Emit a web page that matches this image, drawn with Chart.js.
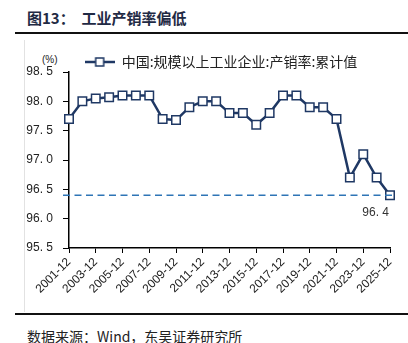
<!DOCTYPE html>
<html>
<head>
<meta charset="utf-8">
<script src="https://cdn.jsdelivr.net/npm/chart.js@4.4.1/dist/chart.umd.min.js"></script>
<style>
  html, body { margin: 0; padding: 0; background: #fff; }
  body { width: 408px; height: 343px; position: relative; overflow: hidden; font-family: "Noto Sans CJK SC", sans-serif; }
  .title { position: absolute; left: 27px; top: 7px; font-size: 15px; font-weight: bold; color: #1f2a44; white-space: pre; }
  .rule { position: absolute; left: 15px; right: 0; height: 2px; background: #111; }
  .frame { position: absolute; left: 24px; top: 40px; width: 1px; height: 272px; background: #e2e2e2; }
  .unit { position: absolute; left: 42px; top: 54px; font-size: 10px; font-family: "Liberation Sans", sans-serif; color: #222; }
  .source { position: absolute; left: 27px; top: 326px; font-size: 14px; color: #222; white-space: pre; }
  #wrap { position: absolute; left: 0; top: 40px; width: 408px; height: 272px; }
</style>
</head>
<body>
<div class="title">图13：  工业产销率偏低</div>
<div class="rule" style="top:32px"></div>
<div class="frame"></div>
<div class="unit">(%)</div>
<div id="wrap"><canvas id="lineCanvas" width="408" height="272"></canvas></div>
<div class="rule" style="top:313px"></div>
<div class="source">数据来源：Wind，东吴证券研究所</div>

<script>
// 2001-12 ... 2025-12
const years = [
  "2001-12", "2002-12", "2003-12", "2004-12", "2005-12", "2006-12", "2007-12",
  "2008-12", "2009-12", "2010-12", "2011-12", "2012-12", "2013-12", "2014-12",
  "2015-12", "2016-12", "2017-12", "2018-12", "2019-12", "2020-12", "2021-12",
  "2022-12", "2023-12", "2024-12", "2025-12",
];
const salesRate = [
  97.7, 98.0, 98.05, 98.07, 98.1, 98.1, 98.1,
  97.7, 97.68, 97.9, 98.0, 98.0, 97.8, 97.8,
  97.6, 97.8, 98.1, 98.1, 97.9, 97.9, 97.7,
  96.7, 97.1, 96.7, 96.4,
];
const seriesName = "中国:规模以上工业企业:产销率:累计值";
const refValue = 96.4;
const yTicks = [95.5, 96.0, 96.5, 97.0, 97.5, 98.0, 98.5];

const navy = "#1f3864";

// little legend symbol: line with a square in the middle
const makeLegendIcon = () => {
  const c = document.createElement("canvas");
  c.width = 30;
  c.height = 12;
  const g = c.getContext("2d");
  g.strokeStyle = navy;
  g.lineWidth = 2.5;
  g.beginPath();
  g.moveTo(0, 6);
  g.lineTo(30, 6);
  g.stroke();
  g.fillStyle = "#fff";
  g.lineWidth = 1.5;
  g.fillRect(11, 2, 8, 8);
  g.strokeRect(11, 2, 8, 8);
  return c;
};

// the legend sits a bit right of centre and closer to the plot in the original
const legendNudge = {
  id: "legendNudge",
  afterLayout(chart) {
    const lg = chart.legend;
    lg.left += 16;
    lg.right += 16;
    lg.top += 7;
    lg.bottom += 7;
  },
};

// dashed reference line + its label
const refLine = {
  id: "refLine",
  afterDatasetsDraw(chart) {
    const { ctx, chartArea, scales } = chart;
    const y = scales.y.getPixelForValue(refValue);
    ctx.save();
    ctx.strokeStyle = "#2e75b6";
    ctx.lineWidth = 1.6;
    ctx.setLineDash([7, 4.5]);
    ctx.beginPath();
    ctx.moveTo(chartArea.left - 6, y);
    ctx.lineTo(chartArea.right + 6, y);
    ctx.stroke();
    ctx.setLineDash([]);
    ctx.fillStyle = "#333";
    ctx.font = "12px 'Liberation Sans', sans-serif";
    ctx.textAlign = "right";
    ctx.textBaseline = "middle";
    ctx.fillText(refValue.toFixed(1).replace(".", ". "), chartArea.right - 1, y + 17);
    ctx.restore();
  },
};

const initChart = () => {
  const canvas = document.getElementById("lineCanvas");
  const icon = makeLegendIcon();

  return new Chart(canvas, {
    type: "line",
    data: {
      labels: years,
      datasets: [
        {
          label: seriesName,
          data: salesRate,
          borderColor: navy,
          borderWidth: 2.5,
          pointStyle: "rect",
          pointRadius: 6,
          pointBorderWidth: 1.5,
          pointBackgroundColor: "#fff",
          pointBorderColor: navy,
          tension: 0,
        },
      ],
    },
    plugins: [legendNudge, refLine],
    options: {
      responsive: false,
      animation: false,
      layout: { padding: { left: 20, right: 18, top: 8, bottom: 0 } },
      plugins: {
        tooltip: { enabled: false },
        legend: {
          display: true,
          position: "top",
          labels: {
            usePointStyle: true,
            pointStyleWidth: 30,
            padding: 0,
            color: "#222",
            font: { family: "'Noto Sans CJK SC', sans-serif", size: 14 },
            generateLabels: (chart) =>
              chart.data.datasets.map((ds, i) => ({
                text: ds.label,
                pointStyle: icon,
                fontColor: "#222",
                lineWidth: 0,
                datasetIndex: i,
              })),
          },
        },
      },
      scales: {
        x: {
          type: "category",
          afterFit: (s) => { s.height = 64; },
          grid: {
            drawOnChartArea: false,
            drawTicks: true,
            tickLength: 5,
            tickColor: (c) => (c.index % 2 === 0 ? "#000" : "rgba(0,0,0,0)"),
          },
          border: { color: "#000", width: 1.5 },
          ticks: {
            autoSkip: false,
            minRotation: 45,
            maxRotation: 45,
            padding: 2,
            color: "#222",
            font: { family: "'Liberation Sans', sans-serif", size: 12 },
            callback: function (value, index) {
              return index % 2 === 0 ? this.getLabelForValue(value) : "";
            },
          },
        },
        y: {
          min: yTicks[0],
          max: yTicks[yTicks.length - 1],
          afterFit: (s) => { s.width = 49; },
          afterBuildTicks: (s) => { s.ticks = yTicks.map((v) => ({ value: v })); },
          grid: {
            drawOnChartArea: false,
            drawTicks: true,
            tickLength: 6,
            tickColor: "#000",
          },
          border: { color: "#000", width: 1.5 },
          ticks: {
            padding: 10,
            color: "#222",
            font: { family: "'Liberation Sans', sans-serif", size: 12 },
            callback: (v) => v.toFixed(1).replace(".", ". "),
          },
        },
      },
    },
  });
};

document.addEventListener("DOMContentLoaded", () => {
  initChart();
});
</script>
</body>
</html>
